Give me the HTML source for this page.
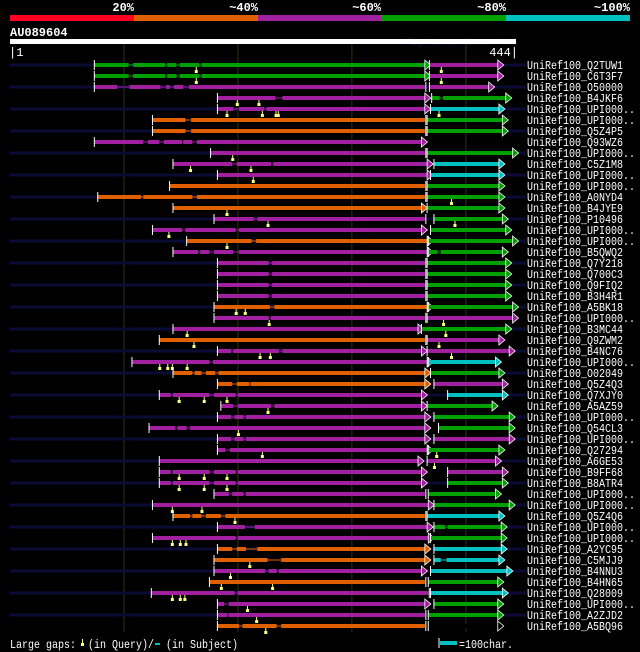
<!DOCTYPE html>
<html><head><meta charset="utf-8">
<style>
html,body{margin:0;padding:0;background:#000;}
svg{display:block;font-family:"Liberation Mono",monospace;}
</style></head>
<body>
<svg id="chart" width="640" height="652" viewBox="0 0 640 652" xmlns="http://www.w3.org/2000/svg">
  <rect x="0" y="0" width="640" height="652" fill="#000"/>
  <g>
    <text x="134" y="11" text-anchor="end" fill="#fff" font-size="12" font-weight="bold">20%</text>
    <text x="258" y="11" text-anchor="end" fill="#fff" font-size="12" font-weight="bold">~40%</text>
    <text x="381" y="11" text-anchor="end" fill="#fff" font-size="12" font-weight="bold">~60%</text>
    <text x="506" y="11" text-anchor="end" fill="#fff" font-size="12" font-weight="bold">~80%</text>
    <text x="630" y="11" text-anchor="end" fill="#fff" font-size="12" font-weight="bold">~100%</text>
    <rect x="10" y="15" width="124" height="6" fill="#ff0022"/>
    <rect x="134" y="15" width="124" height="6" fill="#e06000"/>
    <rect x="258" y="15" width="123" height="6" fill="#a020a0"/>
    <rect x="381" y="15" width="125" height="6" fill="#00a000"/>
    <rect x="506" y="15" width="124" height="6" fill="#00c0c0"/>
  </g>
  <text x="10" y="36" fill="#fff" font-size="12" font-weight="bold">AU089604</text>
  <text x="402" y="45" fill="#101040" font-size="10" textLength="115">AlignView.pm Beta rel.7</text>
  <rect x="10" y="39" width="506" height="5" fill="#fff"/>
  <text x="9" y="56" fill="#fff" font-size="12">|1</text>
  <text x="518" y="56" fill="#fff" font-size="12" text-anchor="end">444|</text>
  <g id="grid"></g>
  <g id="rows"></g>
  <g>
    <text x="10" y="648" fill="#fff" font-size="12" textLength="66" lengthAdjust="spacingAndGlyphs">Large gaps:</text>
    <rect x="81" y="643" width="3" height="3" fill="#ffff80"/>
    <line x1="82.5" y1="639" x2="82.5" y2="643" stroke="#ffff80" stroke-width="1"/>
    <text x="88" y="648" fill="#fff" font-size="12" textLength="66" lengthAdjust="spacingAndGlyphs">(in Query)/</text>
    <rect x="155" y="643" width="5" height="2" fill="#00c0c0"/>
    <text x="166" y="648" fill="#fff" font-size="12" textLength="72" lengthAdjust="spacingAndGlyphs">(in Subject)</text>
    <line x1="439" y1="638" x2="439" y2="648" stroke="#fff" stroke-width="1"/>
    <rect x="440" y="641" width="17" height="4" fill="#00c0c0"/>
    <text x="459" y="648" fill="#fff" font-size="12" textLength="54" lengthAdjust="spacingAndGlyphs">=100char.</text>
  </g>
</svg>
<script>
// ---- data (residue coordinates on a 444-residue query) ----
const names = ["UniRef100_Q2TUW1","UniRef100_C6T3F7","UniRef100_O50000","UniRef100_B4JKF6","UniRef100_UPI000..","UniRef100_UPI000..","UniRef100_Q5Z4P5","UniRef100_Q93WZ6","UniRef100_UPI000..","UniRef100_C5Z1M8","UniRef100_UPI000..","UniRef100_UPI000..","UniRef100_A0NYD4","UniRef100_B4JYE9","UniRef100_P10496","UniRef100_UPI000..","UniRef100_UPI000..","UniRef100_B5QWQ2","UniRef100_Q7Y218","UniRef100_Q700C3","UniRef100_Q9FIQ2","UniRef100_B3H4R1","UniRef100_A5BK18","UniRef100_UPI000..","UniRef100_B3MC44","UniRef100_Q9ZWM2","UniRef100_B4NC76","UniRef100_UPI000..","UniRef100_O02049","UniRef100_Q5Z4Q3","UniRef100_Q7XJY0","UniRef100_A5AZ59","UniRef100_UPI000..","UniRef100_Q54CL3","UniRef100_UPI000..","UniRef100_Q27294","UniRef100_A6GE53","UniRef100_B9FF68","UniRef100_B8ATR4","UniRef100_UPI000..","UniRef100_UPI000..","UniRef100_Q5Z4Q6","UniRef100_UPI000..","UniRef100_UPI000..","UniRef100_A2YC95","UniRef100_C5MJJ9","UniRef100_B4NNU3","UniRef100_B4HN65","UniRef100_Q28009","UniRef100_UPI000..","UniRef100_A2ZJD2","UniRef100_A5BQ96"];
const seg1Start = [74,74,74,182,182,125,125,74,176,143,182,140,77,143,179,125,155,143,182,182,182,182,179,179,143,131,182,107,143,182,131,185,182,122,182,182,131,131,131,179,125,143,182,125,182,179,179,175,124,182,182,182];
const seg1End   = [364,364,364,364,364,364,364,361,364,366,366,364,364,361,364,361,366,366,364,364,364,364,366,364,358,364,361,366,364,364,361,361,364,364,364,366,358,361,361,364,367,364,366,367,364,364,361,364,367,364,364,364];
const seg1Color = "GGMMMOOMMMMOOOMMOMMMMMOMMOMMOOMMMMMMMMMMMOMMOOMOMMMO";
const seg1Arrow = [1,1,0,1,1,0,0,1,0,1,1,0,0,1,0,1,1,1,0,0,0,0,1,0,1,0,1,1,1,1,1,1,1,1,1,1,1,1,1,0,1,0,1,1,1,1,1,0,0,1,0,0];
const seg1Gaps = [[[104,108],[136,138],[146,149],[166,168]],[[104,108],[136,138],[146,149],[166,168]],[[94,105],[132,137],[140,144],[152,157]],[[233,239]],[[196,201],[223,225]],[[154,159]],[[154,159]],[[117,121],[131,135],[151,152],[160,164]],[],[[195,199],[229,231]],[],[],[[115,117],[160,164]],[],[[214,217]],[[151,154],[198,201]],[[212,216]],[[165,167],[175,179],[196,201]],[[227,230]],[[227,230]],[[227,230]],[[227,230]],[[228,232]],[[227,229]],[],[],[[194,196],[236,239]],[[175,178]],[[160,162],[168,172],[180,183]],[[195,199],[210,211]],[[141,143],[175,179],[198,200]],[[196,200],[229,232]],[[194,197],[205,207]],[[145,147],[155,158]],[[194,197],[205,207]],[[189,193]],[],[[141,143],[175,179],[198,200]],[[141,143],[175,179],[198,200]],[[192,195],[205,207]],[],[[158,160],[168,172],[185,189]],[[206,215]],[[198,200]],[[195,199],[207,217]],[[226,238]],[[224,227],[234,236]],[],[[197,200]],[[188,192]],[[191,192]],[[201,204],[234,238]]];
const seg1Marks = [[163],[163],[],[199,218],[190,221,233,235],[],[],[],[195],[158,211],[213],[],[],[190],[226],[139],[190],[],[],[],[],[],[198,206],[227],[155],[161],[219,228],[131,138,142,155],[],[],[148,170,190],[226],[],[200],[],[221],[],[148,170,190],[148,170,190],[],[142,168],[197],[],[142,149,154],[],[210],[193],[185,230],[142,149,153],[208],[216],[224]];
const seg2Start = [368,368,368,370,369,366,366,null,366,372,369,366,366,366,372,369,367,367,366,366,366,366,367,366,361,366,366,367,369,372,384,366,372,376,372,367,366,384,384,367,372,366,372,369,372,372,369,367,369,372,367,367];
const seg2End   = [428,428,420,435,429,432,432,null,441,429,429,429,429,429,432,435,441,432,435,435,435,435,441,441,435,429,438,426,429,432,432,423,438,438,438,429,426,432,432,426,438,429,431,431,431,429,436,428,432,428,428,428];
const seg2Color = "MMMGCGG-GCCGGGGGGGGGGGGMGMMCGMCGGGMGMMGGGCGGCCCGCGG";
const seg2Gaps = {3:[[377,380]],17:[[375,378]],42:[[382,384]],45:[[378,383]]};
const seg2Marks = {0:[378],1:[378],4:[376],12:[387],14:[390],23:[380],24:[382],25:[376],26:[387],35:[374],36:[372]};

const COLORS = {G:"#00a000", M:"#a020a0", O:"#e06000", C:"#00c0c0"};
const NS = "http://www.w3.org/2000/svg";
const xScale = r => 10 + r * 506 / 444;
const yRow = i => 65 + 11 * i;

function mk(tag, attrs, parent) {
  const e = document.createElementNS(NS, tag);
  for (const k in attrs) e.setAttribute(k, attrs[k]);
  parent.appendChild(e);
  return e;
}

const grid = document.getElementById('grid');
[100, 200, 300, 400].forEach(r => {
  const l = mk('line', {x1: xScale(r), x2: xScale(r), y1: 44, y2: 632, stroke: "#33330a", "stroke-width": 1}, grid);
  
  
});

const rows = document.getElementById('rows');

function drawSegment(g, i, s, e, color, gaps, marks, arrow) {
  const y = yRow(i);
  const x0 = xScale(s), x1 = xScale(e);
  const c = COLORS[color];
  const thin = mk('rect', {x: x0, y: y - 0.5, width: x1 - x0, height: 1, fill: c}, g);
  
  
  let cur = s;
  const pieces = [];
  (gaps || []).forEach(gp => { pieces.push([cur, gp[0]]); cur = gp[1]; });
  pieces.push([cur, e]);
  pieces.forEach(p => {
    const r = mk('rect', {x: xScale(p[0]), y: y - 2, width: Math.max(0, xScale(p[1]) - xScale(p[0])), height: 4, fill: c}, g);
    
    
  });
  const t = mk('line', {x1: x0, x2: x0, y1: y - 5, y2: y + 5, stroke: "#fff", "stroke-width": 1}, g);
  
  
  if (arrow) {
    const a = mk('path', {d: `M${x1},${y - 5} L${x1 + 6},${y} L${x1},${y + 5} Z`, fill: c, stroke: "#fff", "stroke-width": 0.8}, g);
    
    
  } else {
    const et = mk('line', {x1: x1 + 1, x2: x1 + 1, y1: y - 5, y2: y + 5, stroke: "#fff", "stroke-width": 1}, g);
    
    
  }
  (marks || []).forEach(m => {
    const xm = xScale(m);
    const st = mk('line', {x1: xm + 0.5, x2: xm + 0.5, y1: y + 2, y2: y + 5, stroke: "#ffff80", "stroke-width": 1}, g);
    
    
    const sq = mk('rect', {x: xm - 1, y: y + 5, width: 3, height: 3, fill: "#ffff80"}, g);
    
    
  });
}

names.forEach((nm, i) => {
  const g = mk('g', {}, rows);
  
  
  const y = yRow(i);
  if (i % 2 === 0) {
    const nv = mk('rect', {x: 10, y: y - 1.5, width: 516, height: 3, fill: "#0b0b36"}, g);
    
    
  }
  drawSegment(g, i, seg1Start[i], seg1End[i], seg1Color[i], seg1Gaps[i], seg1Marks[i], seg1Arrow[i]);
  if (seg2Start[i] !== null) {
    drawSegment(g, i, seg2Start[i], seg2End[i], seg2Color[i], seg2Gaps[i], seg2Marks[i], 1);
  }
  const tx = mk('text', {x: 527, y: y + 4, fill: "#fff", "font-size": 12, textLength: nm.length * 6, lengthAdjust: "spacingAndGlyphs"}, g);
  tx.textContent = nm;
  
  
});
</script>
</body></html>
